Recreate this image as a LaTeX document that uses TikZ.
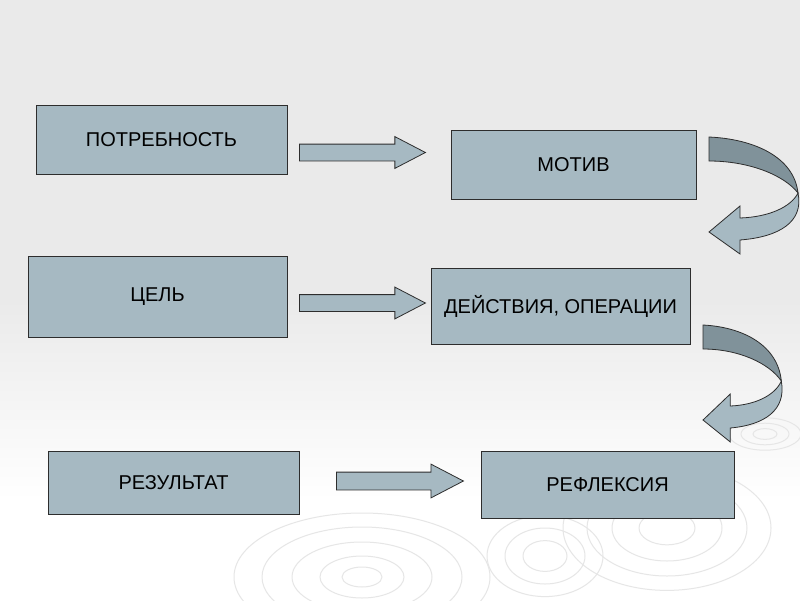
\documentclass[tikz,border=0pt]{standalone}
\usepackage{fontspec}
\setmainfont{Liberation Sans}
\usetikzlibrary{shapes.arrows}
\definecolor{boxfill}{RGB}{166,185,194}
\definecolor{ribbon}{RGB}{128,146,154}
\definecolor{edge}{RGB}{45,45,45}
\definecolor{paper}{RGB}{234,234,234}
\definecolor{ripple}{RGB}{230,230,230}
\begin{document}
\begin{tikzpicture}[x=1pt, y=-1pt,
    stagebox/.style={draw=edge, fill=boxfill, line width=0.8pt, inner sep=0pt,
      font=\fontsize{20}{24}\selectfont},
    flatarrow/.style={single arrow, draw=edge, fill=boxfill, line width=0.8pt,
      inner xsep=0pt, inner ysep=8pt, single arrow head extend=7.5pt,
      single arrow tip angle=55, anchor=tail},
    ring/.style={draw=ripple, line width=1pt}]
    % Background: flat grey that fades to white towards the bottom
    \useasboundingbox (0,0) rectangle (800,600);
    \fill[paper] (0,0) rectangle (800,300);
    \shade[top color=paper, bottom color=white] (0,300) rectangle (800,500);
    \fill[white] (0,500) rectangle (800,600);
    % Ripples
    \foreach \r in {20,42,70,100,128} {
      \draw[ring] (362,577) ellipse [x radius=\r, y radius=0.5*\r];
    }
    \foreach \r in {22,40,58} {
      \draw[ring] (545,556) ellipse [x radius=\r, y radius=0.7*\r];
    }
    \foreach \r in {28,55,80,104} {
      \draw[ring] (667,528) ellipse [x radius=\r, y radius=0.6*\r];
    }
    \foreach \r in {12,24,36} {
      \draw[ring] (765,434) ellipse [x radius=\r, y radius=0.45*\r];
    }
    % Stages
    \node[stagebox, minimum width=251pt, minimum height=69pt] (need) at (161.5,139.5) {ПОТРЕБНОСТЬ};
    \node[stagebox, minimum width=245pt, minimum height=69pt] (motive) at (573.5,164.5) {МОТИВ};
    \node[stagebox, minimum width=259pt, minimum height=81pt] (goal) at (157.5,296.5) {ЦЕЛЬ};
    \node[stagebox, minimum width=259pt, minimum height=76pt] (action) at (560.5,306) {ДЕЙСТВИЯ, ОПЕРАЦИИ};
    \node[stagebox, minimum width=251pt, minimum height=63pt] (result) at (173.5,482.5) {РЕЗУЛЬТАТ};
    \node[stagebox, minimum width=253pt, minimum height=67pt] (reflex) at (607.5,484.5) {РЕФЛЕКСИЯ};
    % Straight block arrows (placed by their tails)
    \node[flatarrow, minimum height=126pt] (arr1) at (299,152.5) {};
    \node[flatarrow, minimum height=126pt] (arr2) at (299,303) {};
    \node[flatarrow, minimum height=127pt, inner ysep=8.5pt, single arrow head extend=8pt] (arr3) at (336,481) {};
    % Bent arrow: motive -> goal row
    \begin{scope}[shift={(709,137)}]
      \filldraw[fill=ribbon, draw=edge, line width=0.8pt]
        (0,0) .. controls (45,2) and (85,20) .. (89,56)
        .. controls (75,38) and (40,24) .. (0,24) -- cycle;
      \filldraw[fill=boxfill, draw=edge, line width=0.8pt]
        (89,56) .. controls (95,85) and (70,100) .. (31,103)
        -- (31,117) -- (0,95) -- (31,69) -- (31,81)
        .. controls (60,80) and (82,70) .. (89,56) -- cycle;
    \end{scope}
    % Bent arrow: action -> result row
    \begin{scope}[shift={(703,325)}, xscale=0.88]
      \filldraw[fill=ribbon, draw=edge, line width=0.8pt]
        (0,0) .. controls (45,2) and (85,20) .. (89,56)
        .. controls (75,38) and (40,24) .. (0,24) -- cycle;
      \filldraw[fill=boxfill, draw=edge, line width=0.8pt]
        (89,56) .. controls (95,85) and (70,100) .. (31,103)
        -- (31,117) -- (0,95) -- (31,69) -- (31,81)
        .. controls (60,80) and (82,70) .. (89,56) -- cycle;
    \end{scope}
\end{tikzpicture}
\end{document}
